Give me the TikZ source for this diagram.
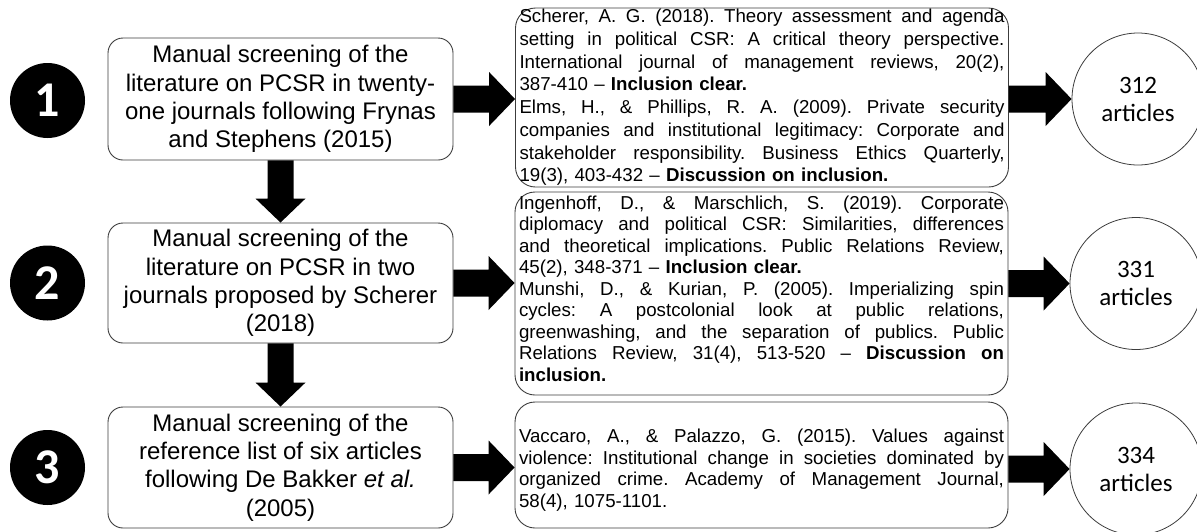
\documentclass[tikz,border=0pt]{standalone}
\usepackage{fontspec}
\setmainfont{Liberation Sans}
\newfontfamily\carlito{Carlito}
\usetikzlibrary{calc}
\frenchspacing
\definecolor{boxgray}{HTML}{3C3C3C}
\newlength\mw
\setlength\mw{485pt}
\newcommand\jl[1]{\hbox to\mw{\spaceskip=.278em plus 1em\relax\xspaceskip=\spaceskip #1}}
\newcommand\rl[1]{\hbox to\mw{#1\hfil}}
\newcommand\harrow[2]{\fill let \p1=(#1), \p2=(#2) in (\x1,\y1+13.5pt) -- (\x2-26pt,\y1+13.5pt) -- (\x2-26pt,\y1+27pt) -- (\x2,\y1) -- (\x2-26pt,\y1-27pt) -- (\x2-26pt,\y1-13.5pt) -- (\x1,\y1-13.5pt) -- cycle;}
\newcommand\varrow[2]{\fill let \p1=(#1), \p2=(#2) in (\x1-13pt,\y1) -- (\x1-13pt,\y2+24pt) -- (\x1-25pt,\y2+24pt) -- (\x1,\y2) -- (\x1+25pt,\y2+24pt) -- (\x1+13pt,\y2+24pt) -- (\x1+13pt,\y1) -- cycle;}
\begin{document}
\begin{tikzpicture}[x=1pt,y=-1pt,
  numcirc/.style={circle, fill=black, text=white, minimum size=75pt, inner sep=0pt, font=\carlito\bfseries\fontsize{50}{50}\selectfont},
  leftbox/.style={draw=boxgray, line width=0.9pt, rounded corners=15pt, minimum width=345pt, align=center, inner sep=0pt, font=\fontsize{24}{28.3}\selectfont},
  midbox/.style={draw=boxgray, line width=0.9pt, rounded corners=20pt, text width=485pt, inner xsep=4pt, inner ysep=0pt, align=left, font=\frenchspacing\fontsize{18.7}{22}\selectfont},
  rescirc/.style={circle, draw=boxgray, line width=0.8pt, minimum size=132pt, inner sep=0pt, align=center, font=\carlito\fontsize{25}{28}\selectfont}]
\useasboundingbox (0,0) rectangle (1197,531);

% step numbers
\node[numcirc] (n1) at (47.5,100.5) {1};
\node[numcirc] (n2) at (47.5,283) {2};
\node[numcirc] (n3) at (47.5,467.5) {3};

% left boxes
\node[leftbox, minimum height=122pt] (l1) at (280.5,99) {Manual screening of the\\literature on PCSR in twenty-\\one journals following Frynas\\and Stephens (2015)};
\node[leftbox, minimum height=120pt] (l2) at (280.5,283) {Manual screening of the\\literature on PCSR in two\\journals proposed by Scherer\\(2018)};
\node[leftbox, minimum height=121pt] (l3) at (280.5,467.5) {Manual screening of the\\reference list of six articles\\following De Bakker \textit{et al.}\\(2005)};

% middle boxes
\node[midbox, minimum height=179pt, font=\frenchspacing\fontsize{18.7}{22.7}\selectfont] (m1) at (762,97.5) {%
\jl{Scherer, A. G. (2018). Theory assessment and agenda}
\jl{setting in political CSR: A critical theory perspective.}
\jl{International journal of management reviews, 20(2),}
\rl{387-410 – \textbf{Inclusion clear.}}
\jl{Elms, H., \& Phillips, R. A. (2009). Private security}
\jl{companies and institutional legitimacy: Corporate and}
\jl{stakeholder responsibility. Business Ethics Quarterly,}
\rl{19(3), 403-432 – \textbf{Discussion on inclusion.}}};
\node[midbox, minimum height=203pt, font=\frenchspacing\fontsize{18.7}{21.5}\selectfont] (m2) at (761.5,293.5) {%
\vskip-18pt
\jl{Ingenhoff, D., \& Marschlich, S. (2019). Corporate}
\jl{diplomacy and political CSR: Similarities, differences}
\jl{and theoretical implications. Public Relations Review,}
\rl{45(2), 348-371 – \textbf{Inclusion clear.}}
\jl{Munshi, D., \& Kurian, P. (2005). Imperializing spin}
\jl{cycles: A postcolonial look at public relations,}
\jl{greenwashing, and the separation of publics. Public}
\jl{Relations Review, 31(4), 513-520 – \textbf{Discussion on}}
\rl{\textbf{inclusion.}}};
\node[midbox, minimum height=126pt, font=\frenchspacing\fontsize{18.7}{21.7}\selectfont] (m3) at (761.5,465) {%
\vskip2pt
\jl{Vaccaro, A., \& Palazzo, G. (2015). Values against}
\jl{violence: Institutional change in societies dominated by}
\jl{organized crime. Academy of Management Journal,}
\rl{58(4), 1075-1101.}};

% result circles
\node[rescirc] (r1) at (1138,99) {312\\articles};
\node[rescirc] (r2) at (1136,283.5) {331\\articles};
\node[rescirc] (r3) at (1136,469) {334\\articles};

% arrows
\varrow{l1.south}{l2.north}
\varrow{l2.south}{l3.north}
\harrow{l1.east}{l1.east -| m1.west}
\harrow{l2.east}{l2.east -| m2.west}
\harrow{l3.east}{l3.east -| m3.west}
\harrow{r1.west -| m1.east}{r1.west}
\harrow{r2.west -| m2.east}{r2.west}
\harrow{r3.west -| m3.east}{r3.west}
\end{tikzpicture}
\end{document}
